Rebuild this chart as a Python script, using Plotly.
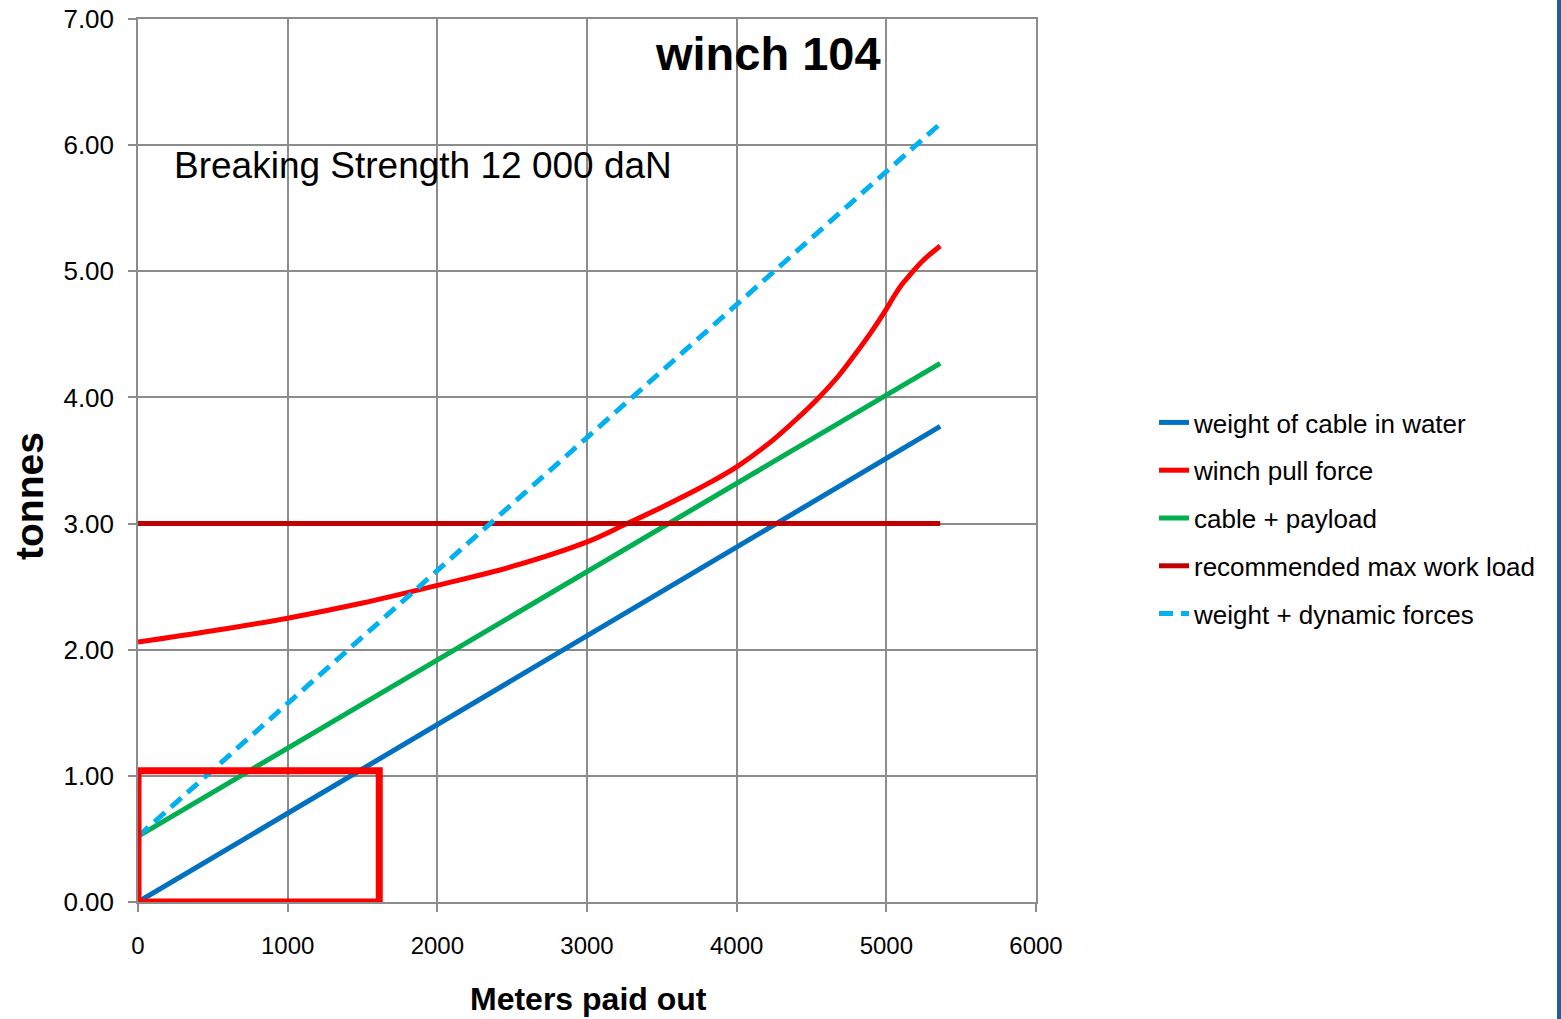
import plotly.graph_objects as go

# ---------------- data ----------------
meters_linear = [0, 5360]
weight_cable = [0.00, 3.77]
cable_payload = [0.52, 4.27]
max_work_load = [3.00, 3.00]
weight_dynamic = [0.52, 6.17]

meters_pull = [0, 500, 1000, 1500, 2000, 2500, 3000, 3250, 3500, 3750, 4000,
               4240, 4420, 4550, 4680, 4790, 4900, 5000, 5050, 5100, 5150, 5240, 5360]
winch_pull = [2.06, 2.15, 2.25, 2.37, 2.51, 2.66, 2.855, 2.99, 3.13, 3.28, 3.45,
              3.66, 3.85, 4.00, 4.17, 4.34, 4.52, 4.70, 4.80, 4.89, 4.96, 5.08, 5.20]

series_names = ["weight of cable in water", "winch pull force", "cable + payload",
                "recommended max work load", "weight + dynamic forces"]
x_ticks = [0, 1000, 2000, 3000, 4000, 5000, 6000]
y_ticks = [0, 1, 2, 3, 4, 5, 6, 7]

# highlight box (annotation)
box_x = [0, 1612]
box_y = [0, 1.04]

BLUE = "#0070C0"
RED = "#FF0000"
GREEN = "#00B050"
DARKRED = "#C00000"
LIGHTBLUE = "#00B0F0"
GRID = "#8C8C8C"
FONT = "Liberation Sans, Arial, sans-serif"

fig = go.Figure()
fig.add_trace(go.Scatter(x=meters_linear, y=weight_cable, mode="lines",
                         name=series_names[0], legendgroup="a",
                         line=dict(color=BLUE, width=5)))
fig.add_trace(go.Scatter(x=meters_pull, y=winch_pull, mode="lines",
                         name=series_names[1], legendgroup="b",
                         line=dict(color=RED, width=5, shape="spline", smoothing=1.0)))
fig.add_trace(go.Scatter(x=meters_linear, y=cable_payload, mode="lines",
                         name=series_names[2], legendgroup="c",
                         line=dict(color=GREEN, width=5)))
fig.add_trace(go.Scatter(x=meters_linear, y=max_work_load, mode="lines",
                         name=series_names[3], legendgroup="d",
                         line=dict(color=DARKRED, width=5)))
fig.add_trace(go.Scatter(x=meters_linear, y=weight_dynamic, mode="lines",
                         name=series_names[4], legendgroup="e",
                         line=dict(color=LIGHTBLUE, width=5, dash="14px,8px")))

fig.add_shape(type="rect", xref="x", yref="y",
              x0=box_x[0], x1=box_x[1], y0=box_y[0], y1=box_y[1],
              line=dict(color=RED, width=7), fillcolor="rgba(0,0,0,0)", layer="above")

# right-edge frame strip
fig.add_shape(type="rect", xref="paper", yref="paper",
              x0=(1557 - 138) / 898, x1=(1565 - 138) / 898, y0=-0.2, y1=1.1,
              line=dict(width=0), fillcolor="#1F5E9C", layer="above")

fig.add_annotation(text="<b>winch 104</b>", xref="paper", yref="paper",
                   x=(768 - 138) / 898, y=(902 - 53) / 883, showarrow=False,
                   xanchor="center", yanchor="middle",
                   font=dict(family=FONT, size=47, color="black"))
fig.add_annotation(text="Breaking Strength 12 000 daN", xref="paper", yref="paper",
                   x=(423 - 138) / 898, y=(902 - 166) / 883, showarrow=False,
                   xanchor="center", yanchor="middle",
                   font=dict(family=FONT, size=37, color="black"))
fig.add_annotation(text="<b>tonnes</b>", xref="paper", yref="paper",
                   x=(29 - 138) / 898, y=(902 - 496) / 883, showarrow=False,
                   textangle=-90, xanchor="center", yanchor="middle",
                   font=dict(family=FONT, size=39, color="black"))
fig.add_annotation(text="<b>Meters paid out</b>", xref="paper", yref="paper",
                   x=(588 - 138) / 898, y=(902 - 999) / 883, showarrow=False,
                   xanchor="center", yanchor="middle",
                   font=dict(family=FONT, size=32, color="black"))

fig.update_xaxes(range=[0, 6000], tickvals=x_ticks, ticktext=[str(v) for v in x_ticks],
                 showgrid=True, gridcolor=GRID, gridwidth=1.5,
                 showline=True, linecolor=GRID, linewidth=1.5, mirror=True,
                 ticks="outside", ticklen=8, tickcolor=GRID, tickwidth=1.5,
                 ticklabelstandoff=13, zeroline=False, automargin=False,
                 ticklabeloverflow="allow",
                 tickfont=dict(family=FONT, size=24, color="black"))
fig.update_yaxes(range=[0, 7], tickvals=y_ticks, ticktext=[f"{v:.2f}" for v in y_ticks],
                 showgrid=True, gridcolor=GRID, gridwidth=1.5,
                 showline=True, linecolor=GRID, linewidth=1.5, mirror=True,
                 ticks="outside", ticklen=8, tickcolor=GRID, tickwidth=1.5,
                 ticklabelstandoff=9, zeroline=False, automargin=False,
                 ticklabeloverflow="allow",
                 tickfont=dict(family=FONT, size=26, color="black"))

fig.update_layout(
    width=1561, height=1019,
    margin=dict(l=138, r=525, t=19, b=117, autoexpand=False),
    paper_bgcolor="white", plot_bgcolor="white",
    showlegend=True,
    legend=dict(x=(1154 - 138) / 898, y=(902 - 399) / 883, xanchor="left", yanchor="top",
                font=dict(family=FONT, size=26, color="black"),
                tracegroupgap=11, bgcolor="rgba(0,0,0,0)", itemwidth=30),
)

fig.write_html(
    "out.html",
    config={"displayModeBar": False},
    post_script="document.body.style.margin='0';document.body.style.overflow='hidden';",
)
